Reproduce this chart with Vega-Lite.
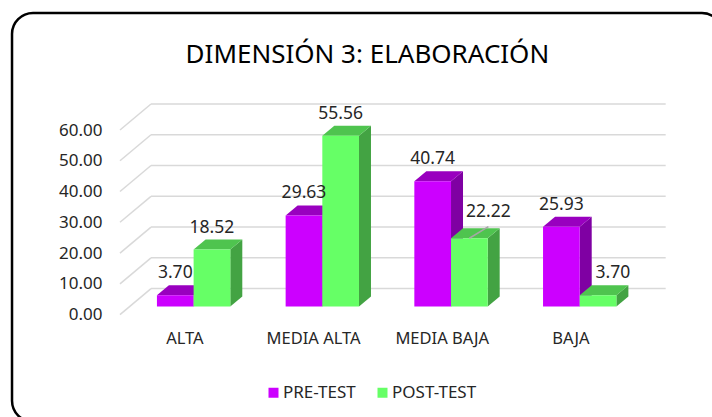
{
  "$schema": "https://vega.github.io/schema/vega-lite/v6.json",
  "width": 514.8,
  "height": 184.6,
  "padding": {"left": 120, "top": 130, "right": 77.2, "bottom": 102.4},
  "autosize": {"type": "none"},
  "background": "white",
  "title": {"text": "DIMENSIÓN 3: ELABORACIÓN", "font": "Noto Sans", "fontSize": 26, "fontWeight": "normal", "color": "#000000", "anchor": "middle", "dx": -10, "offset": -56},
  "config": {"view": {"stroke": null}, "axis": {"labelOverlap": false, "labelBound": false, "labelFlush": false, "tickCount": 7}},
  "data": {"values": [
    {"categoria": "ALTA", "serie": "PRE-TEST", "valor": 3.70},
    {"categoria": "MEDIA ALTA", "serie": "PRE-TEST", "valor": 29.63},
    {"categoria": "MEDIA BAJA", "serie": "PRE-TEST", "valor": 40.74},
    {"categoria": "BAJA", "serie": "PRE-TEST", "valor": 25.93},
    {"categoria": "ALTA", "serie": "POST-TEST", "valor": 18.52},
    {"categoria": "MEDIA ALTA", "serie": "POST-TEST", "valor": 55.56},
    {"categoria": "MEDIA BAJA", "serie": "POST-TEST", "valor": 22.22},
    {"categoria": "BAJA", "serie": "POST-TEST", "valor": 3.70}
  ]},
  "transform": [
    {"calculate": "indexof(['ALTA','MEDIA ALTA','MEDIA BAJA','BAJA'],datum.categoria)", "as": "i"},
    {"calculate": "datum.serie==='PRE-TEST'?0:1", "as": "s"},
    {"calculate": "datum.i+0.287+0.285*datum.s", "as": "xl"},
    {"calculate": "datum.xl+0.285", "as": "xr"},
    {"calculate": "datum.xl+0.1425", "as": "xc"},
    {"calculate": "datum.xr+0.0932", "as": "xrd"},
    {"calculate": "datum.valor+2.6", "as": "ytop"},
    {"calculate": "datum.ytop+3.25", "as": "ytopd"},
    {"calculate": "2.6", "as": "ybot"},
    {"calculate": "datum.s===1&&datum.i===2?datum.xc+0.148:(datum.s===1&&datum.i===3?datum.xc+0.115:datum.xc)", "as": "xt"},
    {"calculate": "datum.s===1&&datum.i===2?datum.ytop+1.3:datum.ytop", "as": "yt"}
  ],
  "resolve": {"scale": {"fill": "independent"}},
  "layer": [
    {
      "data": {"values": [{"marco": "borde"}]},
      "mark": {"type": "rect", "fill": null, "stroke": "#000000", "strokeWidth": 2.5, "cornerRadius": 21, "clip": false},
      "encoding": {
        "x": {"datum": -0.839, "type": "quantitative", "scale": {"domain": [0, 4], "nice": false, "zero": false},
          "axis": {"title": null, "values": [0.5, 1.5, 2.5, 3.5], "labelExpr": "['ALTA','MEDIA ALTA','MEDIA BAJA','BAJA'][floor(datum.value)]", "domain": false, "ticks": false, "grid": false, "labelFont": "Noto Sans", "labelFontSize": 16.5, "labelColor": "#262626", "labelPadding": 16, "labelOverlap": false, "labelLimit": 300}},
        "x2": {"datum": 4.685},
        "y": {"datum": 98.0, "type": "quantitative", "scale": {"domain": [0, 60], "nice": false, "zero": false},
          "axis": {"title": null, "values": [0, 10, 20, 30, 40, 50, 60], "format": ".2f", "domain": false, "ticks": false, "grid": false, "labelFont": "Noto Sans", "labelFontSize": 17, "labelColor": "#262626", "labelPadding": 18, "labelOverlap": false}},
        "y2": {"datum": -34.8}
      }
    },
    {
      "data": {"values": [{"tick": 0}, {"tick": 10}, {"tick": 20}, {"tick": 30}, {"tick": 40}, {"tick": 50}, {"tick": 60}]},
      "transform": [{"calculate": "datum.tick+8.45", "as": "yb"}],
      "mark": {"type": "rule", "stroke": "#D9D9D9", "strokeWidth": 1.5},
      "encoding": {"x": {"datum": 0}, "x2": {"datum": 0.2409}, "y": {"field": "tick", "type": "quantitative"}, "y2": {"field": "yb"}}
    },
    {
      "data": {"values": [{"tick": 0}, {"tick": 10}, {"tick": 20}, {"tick": 30}, {"tick": 40}, {"tick": 50}, {"tick": 60}]},
      "transform": [{"calculate": "datum.tick+8.45", "as": "yb"}],
      "mark": {"type": "rule", "stroke": "#D9D9D9", "strokeWidth": 1.5},
      "encoding": {"x": {"datum": 0.2409}, "x2": {"datum": 4.24}, "y": {"field": "yb", "type": "quantitative"}}
    },
    {
      "transform": [
        {"fold": ["xr", "xrd"], "as": ["k", "px"]},
        {"calculate": "datum.k==='xrd'?3.25:0", "as": "t"},
        {"calculate": "datum.ybot+datum.t", "as": "ylo"},
        {"calculate": "datum.ytop+datum.t", "as": "yhi"}
      ],
      "mark": {"type": "area", "orient": "vertical", "opacity": 1},
      "encoding": {
        "x": {"field": "px", "type": "quantitative"},
        "y": {"field": "yhi", "type": "quantitative", "stack": null},
        "y2": {"field": "ylo"},
        "detail": {"field": "categoria"},
        "fill": {"field": "serie", "type": "nominal", "legend": null, "scale": {"domain": ["PRE-TEST", "POST-TEST"], "range": ["#7F00A3", "#43A343"]}}
      }
    },
    {
      "transform": [
        {"fold": ["ytop", "ytopd"], "as": ["k", "py"]},
        {"calculate": "datum.k==='ytopd'?0.0932:0", "as": "t"},
        {"calculate": "datum.xl+datum.t", "as": "xa"},
        {"calculate": "datum.xr+datum.t", "as": "xb"}
      ],
      "mark": {"type": "area", "orient": "horizontal", "opacity": 1},
      "encoding": {
        "y": {"field": "py", "type": "quantitative"},
        "x": {"field": "xa", "type": "quantitative", "stack": null},
        "x2": {"field": "xb"},
        "detail": {"field": "categoria"},
        "fill": {"field": "serie", "type": "nominal", "legend": null, "scale": {"domain": ["PRE-TEST", "POST-TEST"], "range": ["#9900BF", "#4FC44F"]}}
      }
    },
    {
      "mark": {"type": "rect"},
      "encoding": {
        "x": {"field": "xl", "type": "quantitative"},
        "x2": {"field": "xr"},
        "y": {"field": "ytop", "type": "quantitative"},
        "y2": {"field": "ybot"},
        "fill": {"field": "serie", "type": "nominal", "title": null,
          "scale": {"domain": ["PRE-TEST", "POST-TEST"], "range": ["#CC00FF", "#66FF66"]},
          "legend": {"orient": "none", "legendX": 145, "legendY": 254, "direction": "horizontal", "symbolType": "square", "symbolSize": 100, "symbolStrokeWidth": 0, "labelFont": "Noto Sans", "labelFontSize": 17, "labelColor": "#262626", "columnPadding": 18, "labelOffset": 1}}
      }
    },
    {
      "transform": [
        {"filter": "datum.categoria==='MEDIA BAJA' && datum.serie==='POST-TEST'"},
        {"calculate": "datum.xc+0.148", "as": "xe"},
        {"calculate": "datum.ytop+3.8", "as": "ye"}
      ],
      "mark": {"type": "rule", "stroke": "#A6A6A6", "strokeWidth": 1.5},
      "encoding": {"x": {"field": "xc", "type": "quantitative"}, "x2": {"field": "xe"}, "y": {"field": "ytop", "type": "quantitative"}, "y2": {"field": "ye"}}
    },
    {
      "mark": {"type": "text", "font": "Noto Sans", "fontSize": 17.5, "color": "#262626", "baseline": "middle", "align": "center", "dy": -22},
      "encoding": {
        "x": {"field": "xt", "type": "quantitative"},
        "y": {"field": "yt", "type": "quantitative"},
        "text": {"field": "valor", "type": "quantitative", "format": ".2f"}
      }
    }
  ]
}
